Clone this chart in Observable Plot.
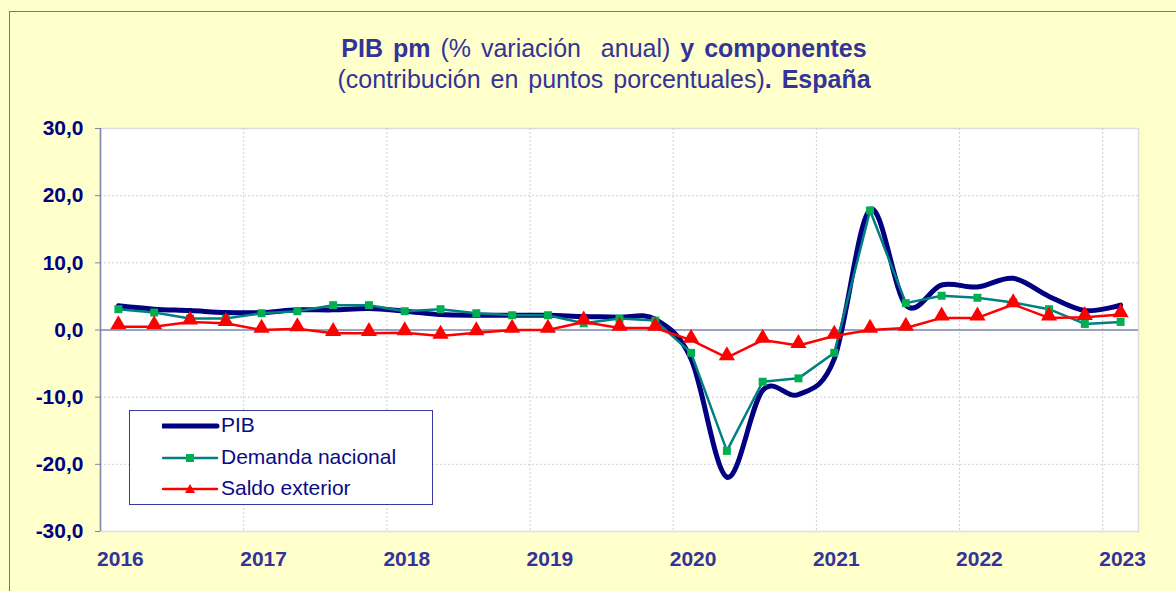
<!DOCTYPE html>
<html>
<head>
<meta charset="utf-8">
<script src="https://cdn.jsdelivr.net/npm/d3@7"></script>
<script src="https://cdn.jsdelivr.net/npm/@observablehq/plot@0.6"></script>
<style>
  html, body { margin: 0; padding: 0; background: #FFFFCC; }
  #wrap { position: relative; width: 1176px; height: 591px; overflow: hidden; background: #FFFFCC; font-family: "Liberation Sans", Arial, sans-serif; }
  #border { position: absolute; left: 9px; top: 11px; width: 1300px; height: 700px; border: 1px solid #6a74a8; }
  #title { position: absolute; left: 16px; width: 1176px; top: 33px; text-align: center; color: #333399; font-size: 25px; line-height: 31px; word-spacing: 3px; }
  #title b { font-weight: bold; }
  #chart { position: absolute; left: 0; top: 0; }
  #legend { position: absolute; left: 129px; top: 410px; width: 302px; height: 93px; background: #fff; border: 1px solid #3a3aa0; }
  .lg { position: absolute; left: 0; height: 30px; width: 300px; }
  .lg svg { position: absolute; left: 32px; top: 0; }
  .lg span { position: absolute; left: 91px; top: 2px; font-size: 21px; color: #0b0b80; white-space: nowrap; }
</style>
</head>
<body>
<div id="wrap">
  <div id="border"></div>
  <div id="chart"></div>
  <div id="title">
    <div><b>PIB pm</b> (% variación&nbsp; anual) <b>y componentes</b></div>
    <div>(contribución en puntos porcentuales)<b>. España</b></div>
  </div>
  <div id="legend"></div>
</div>
<script>
// Quarterly data, 2016 T1 – 2023 T1
const quarters = ["2016T1","2016T2","2016T3","2016T4","2017T1","2017T2","2017T3","2017T4",
  "2018T1","2018T2","2018T3","2018T4","2019T1","2019T2","2019T3","2019T4",
  "2020T1","2020T2","2020T3","2020T4","2021T1","2021T2","2021T3","2021T4",
  "2022T1","2022T2","2022T3","2022T4","2023T1"];
const pib      = [3.6, 3.1, 2.9, 2.6, 2.6, 3.0, 3.0, 3.2, 2.8, 2.3, 2.2, 2.2, 2.2, 2.0, 1.9, 1.6,
  -4.3, -21.9, -9.0, -9.6, -4.3, 17.9, 3.7, 6.7, 6.4, 7.7, 5.0, 2.9, 3.7];
const demanda  = [3.1, 2.6, 1.7, 1.7, 2.5, 2.8, 3.7, 3.7, 2.8, 3.1, 2.5, 2.2, 2.2, 1.0, 1.7, 1.4,
  -3.4, -18.0, -7.7, -7.2, -3.4, 17.8, 4.0, 5.1, 4.8, 4.1, 3.1, 0.9, 1.2];
const saldo    = [0.5, 0.5, 1.2, 1.0, 0.0, 0.2, -0.5, -0.5, -0.4, -0.9, -0.4, 0.0, 0.0, 1.2, 0.3, 0.3,
  -1.5, -4.1, -1.5, -2.3, -0.9, 0.0, 0.3, 1.8, 1.8, 3.8, 1.8, 1.9, 2.3];
const years = ["2016","2017","2018","2019","2020","2021","2022","2023"];
const yTicks = [-30, -20, -10, 0, 10, 20, 30];
const seriesNames = ["PIB", "Demanda nacional", "Saldo exterior"];

const rows = quarters.map((q, i) => ({q, i, pib: pib[i], demanda: demanda[i], saldo: saldo[i]}));
const yearIdx = years.map(y => quarters.indexOf(y + "T1"));
const boundaries = yearIdx.slice(1).map(i => i - 0.5);

const fmt = v => (v < 0 ? "-" : "") + Math.abs(v).toFixed(1).replace(".", ",");

const chart = Plot.plot({
  width: 1176,
  height: 591,
  marginLeft: 100,
  marginRight: 38,
  marginTop: 128,
  marginBottom: 60,
  style: {background: "transparent", fontFamily: "'Liberation Sans', Arial, sans-serif", overflow: "visible"},
  x: {type: "linear", domain: [-0.5, quarters.length - 0.5]},
  y: {domain: [-30, 30]},
  marks: [
    Plot.frame({fill: "white", stroke: "#dcdce4", strokeWidth: 1.5}),
    Plot.ruleY(yTicks.filter(d => d !== 0 && Math.abs(d) !== 30), {stroke: "#cfcfcf", strokeDasharray: "2,2"}),
    Plot.ruleX(boundaries, {stroke: "#cfcfcf", strokeDasharray: "2,2"}),
    Plot.ruleY([0], {stroke: "#7a86aa", strokeWidth: 1.5}),
    Plot.ruleX([-0.5], {stroke: "#7a86aa", strokeWidth: 1.5}),
    Plot.axisY({ticks: yTicks, tickFormat: fmt, tickSize: 5, tickPadding: 12, stroke: "#7a86aa",
      fill: "#000080", fontSize: 21, fontWeight: "bold", label: null}),
    Plot.axisX({ticks: yearIdx, tickFormat: i => quarters[i].slice(0, 4), tickSize: 0, tickPadding: 20,
      fill: "#333399", fontSize: 21, fontWeight: "bold", label: null, dx: 2}),
    Plot.line(rows, {x: "i", y: "pib", stroke: "#000080", strokeWidth: 5, curve: "cardinal"}),
    Plot.line(rows, {x: "i", y: "demanda", stroke: "#008080", strokeWidth: 2.5}),
    Plot.dot(rows, {x: "i", y: "demanda", symbol: "square", r: 4.5, fill: "#00B050", stroke: "none"}),
    Plot.line(rows, {x: "i", y: "saldo", stroke: "#FF0000", strokeWidth: 2.5}),
    Plot.dot(rows, {x: "i", y: "saldo", symbol: "triangle", r: 6, fill: "#FF0000", stroke: "none", dy: -2})
  ]
});
document.getElementById("chart").appendChild(chart);

// Legend
const legend = document.getElementById("legend");
const lgStyles = [
  {stroke: "#000080", w: 5, marker: null},
  {stroke: "#008080", w: 2.5, marker: "square"},
  {stroke: "#FF0000", w: 2.5, marker: "triangle"}
];
seriesNames.forEach((name, k) => {
  const st = lgStyles[k];
  const div = document.createElement("div");
  div.className = "lg";
  div.style.top = (k * 31.5) + "px";
  let mk = "";
  if (st.marker === "square") mk = `<rect x="24" y="11" width="8" height="8" fill="#00B050"/>`;
  if (st.marker === "triangle") mk = `<path d="M28,10 L33,19 L23,19 Z" fill="#FF0000"/>`;
  div.innerHTML = `<svg width="58" height="30"><line x1="1" x2="55" y1="15" y2="15" stroke="${st.stroke}" stroke-width="${st.w}" stroke-linecap="round"/>${mk}</svg><span>${name}</span>`;
  legend.appendChild(div);
});
</script>
</body>
</html>
